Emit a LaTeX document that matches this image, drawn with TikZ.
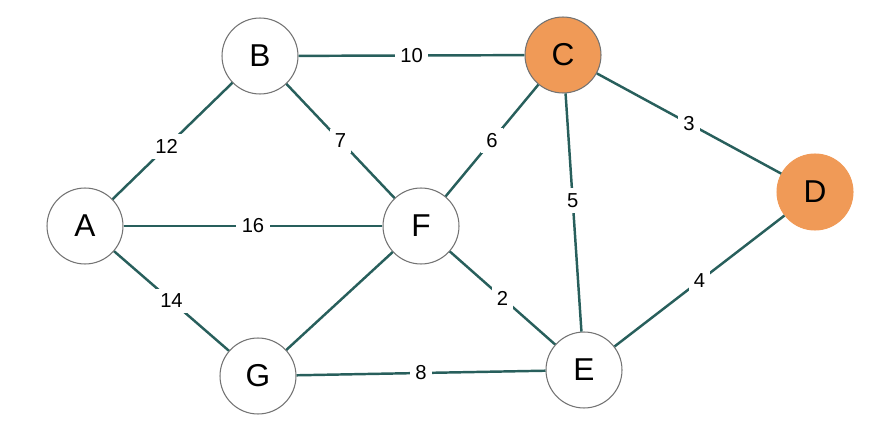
\documentclass[tikz,border=0pt]{standalone}
\usepackage{fontspec}
\setmainfont{Liberation Sans}
\usetikzlibrary{positioning}
\definecolor{edgeteal}{HTML}{285F5C}
\definecolor{hotorange}{HTML}{F09A57}
\tikzset{
  vertex/.style={
    circle, draw=black!55, line width=0.6pt, fill=white,
    minimum size=1.52cm, inner sep=0pt,
    font=\fontsize{18}{20}\selectfont
  },
  marked/.style={vertex, fill=hotorange},
  edge/.style={draw=edgeteal, line width=1.4pt},
  weight/.style={
    fill=white, inner sep=3pt,
    font=\fontsize{11.5}{13}\selectfont
  },
}
\begin{document}
\begin{tikzpicture}[x=0.02cm, y=-0.02cm]
    \useasboundingbox (0,0) rectangle (886,439);

    % Vertices
    \node[vertex] (A) at (85,226) {A};
    \node[vertex] (B) at (260,56) {B};
    \node[marked] (C) at (563,55) {C};
    \node[marked, draw=hotorange] (D) at (815,192) {D};
    \node[vertex] (F) at (421,226) {F};
    \node[vertex] (G) at (258,376) {G};
    \node[vertex] (E) at (584,370) {E};

    % Weighted edges
    \draw[edge] (A) -- node[weight, pos=0.45] {12} (B);
    \draw[edge] (A) -- node[weight] {16} (F);
    \draw[edge] (A) -- node[weight] {14} (G);
    \draw[edge] (B) -- node[weight] {10} (C);
    \draw[edge] (B) -- node[weight] {7} (F);
    \draw[edge] (F) -- node[weight] {6} (C);
    \draw[edge] (C) -- node[weight, pos=0.45] {5} (E);
    \draw[edge] (C) -- node[weight] {3} (D);
    \draw[edge] (E) -- node[weight] {4} (D);
    \draw[edge] (F) -- node[weight] {2} (E);
    \draw[edge] (F) -- (G);
    \draw[edge] (G) -- node[weight] {8} (E);

\end{tikzpicture}
\end{document}
